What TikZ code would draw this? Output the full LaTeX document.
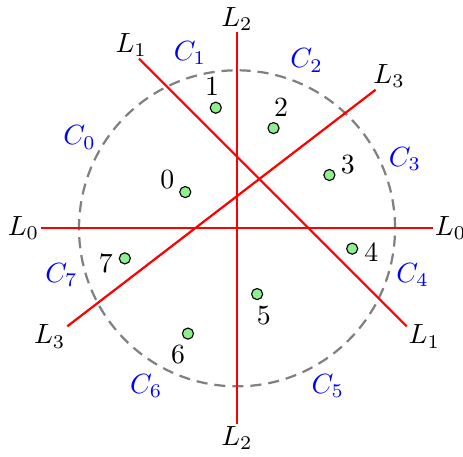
\documentclass[tikz,border=0pt]{standalone}
\usetikzlibrary{calc}
\definecolor{cutline}{HTML}{FF0000}
\definecolor{ringgray}{HTML}{808080}
\definecolor{clustext}{HTML}{0000FF}
\definecolor{ptfill}{HTML}{90EE90}
\tikzset{
  ring/.style={draw=ringgray, dash pattern=on 4pt off 2.5pt, thick},
  cut/.style={draw=cutline, thick},
  cutlabel/.style={inner sep=0.5pt},
  cluslabel/.style={text=clustext},
  pt/.style={circle, draw=black, fill=ptfill, inner sep=0pt, minimum size=4pt},
  ptlabel/.style={inner sep=2pt},
}
\def\ringr{2}
\def\outr{2.48}
\def\clusr{2.3}

\begin{document}
\begin{tikzpicture}
\useasboundingbox (-3.0,-2.89) rectangle (2.86,2.89);

% Dashed ring
\draw[ring] (0,0) circle (\ringr);

% Cut end points on the outer radius
\coordinate (l0w) at (180:\outr);
\coordinate (l0e) at (0:\outr);
\coordinate (l1n) at (120:\outr);
\coordinate (l1s) at (-30:\outr);
\coordinate (l2n) at (90:\outr);
\coordinate (l2s) at (270:\outr);
\coordinate (l3n) at (45:\outr);
\coordinate (l3s) at (210:\outr);

% Cuts
\draw[cut] (l0w) -- (l0e);
\draw[cut] (l1n) -- (l1s);
\draw[cut] (l2n) -- (l2s);
\draw[cut] (l3n) -- (l3s);

% Cut labels
\node[cutlabel, anchor=east]  (l0wlab) at (l0w) {$L_0$};
\node[cutlabel, anchor=west]  (l0elab) at (l0e) {$L_0$};
\node[cutlabel, anchor=-60]   (l1nlab) at (l1n) {$L_1$};
\node[cutlabel, anchor=150]   (l1slab) at (l1s) {$L_1$};
\node[cutlabel, anchor=south] (l2nlab) at (l2n) {$L_2$};
\node[cutlabel, anchor=north] (l2slab) at (l2s) {$L_2$};
\node[cutlabel, anchor=225]   (l3nlab) at (l3n) {$L_3$};
\node[cutlabel, anchor=30]    (l3slab) at (l3s) {$L_3$};

% Cells
\node[cluslabel] (c0) at (150:\clusr)  {$C_0$};
\node[cluslabel] (c1) at (105:\clusr)  {$C_1$};
\node[cluslabel] (c2) at (67.5:\clusr) {$C_2$};
\node[cluslabel] (c3) at (22.5:\clusr) {$C_3$};
\node[cluslabel] (c4) at (-15:\clusr)  {$C_4$};
\node[cluslabel] (c5) at (-60:\clusr)  {$C_5$};
\node[cluslabel] (c6) at (-120:\clusr) {$C_6$};
\node[cluslabel] (c7) at (-165:\clusr) {$C_7$};

% Points, each label pushed straight outwards
\node[pt, label={[ptlabel, anchor=-35]145:0}]  (p0) at (145:0.8)  {};
\node[pt, label={[ptlabel, anchor=-80]100:1}]  (p1) at (100:1.55) {};
\node[pt, label={[ptlabel, anchor=-110]70:2}]  (p2) at (70:1.35)  {};
\node[pt, label={[ptlabel, anchor=-150]30:3}]  (p3) at (30:1.35)  {};
\node[pt, label={[ptlabel, anchor=170]-10:4}]  (p4) at (-10:1.48) {};
\node[pt, label={[ptlabel, anchor=107]-73:5}]  (p5) at (-73:0.87) {};
\node[pt, label={[ptlabel, anchor=65]-115:6}]  (p6) at (-115:1.47) {};
\node[pt, label={[ptlabel, anchor=15]-165:7}]  (p7) at (-165:1.47) {};

\end{tikzpicture}
\end{document}
